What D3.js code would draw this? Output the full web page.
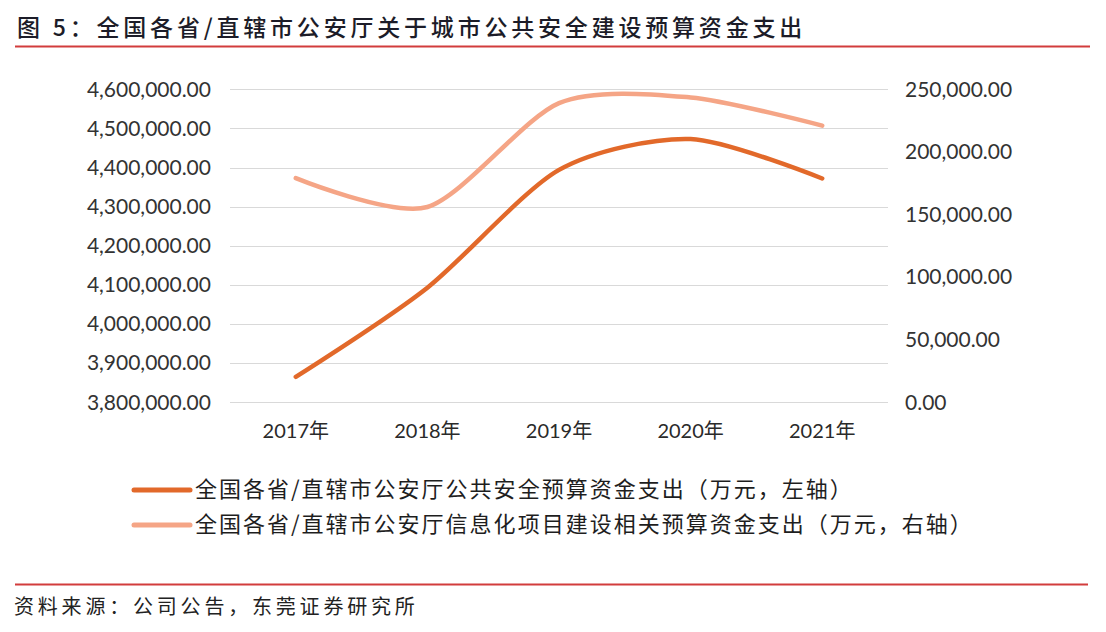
<!DOCTYPE html>
<html>
<head>
<meta charset="utf-8">
<script src="https://cdn.jsdelivr.net/npm/d3@7/dist/d3.min.js"></script>
<style>
  html, body { margin: 0; padding: 0; background: #ffffff; }
  svg { display: block; }
</style>
</head>
<body>
<svg id="chart" width="1106" height="632"></svg>
<script>
// ---- data ----
const categories = ["2017年", "2018年", "2019年", "2020年", "2021年"];
const leftValues = [3865000, 4093000, 4394000, 4473000, 4372000];
const rightValues = [179000, 156000, 239000, 243500, 221000];
const leftTicks = [3800000, 3900000, 4000000, 4100000, 4200000, 4300000, 4400000, 4500000, 4600000];
const rightTicks = [0, 50000, 100000, 150000, 200000, 250000];
const seriesNames = [
  "全国各省/直辖市公安厅公共安全预算资金支出（万元，左轴）",
  "全国各省/直辖市公安厅信息化项目建设相关预算资金支出（万元，右轴）"
];
const titleText = "图 5：全国各省/直辖市公安厅关于城市公共安全建设预算资金支出";
const sourceText = "资料来源：公司公告，东莞证券研究所";

// ---- layout ----
const svg = d3.select("#chart");
const plot = { left: 230, right: 888, top: 89.3, bottom: 402.3 };
const colors = ["#E2692A", "#F5A586"];
const cjk = "'Noto Sans CJK SC', 'Noto Sans', sans-serif";
const num = "Lato, 'Noto Sans CJK SC', sans-serif";

const x = d3.scaleBand().domain(categories).range([plot.left, plot.right]).padding(0);
const cx = c => x(c) + x.bandwidth() / 2;
const yL = d3.scaleLinear().domain([3800000, 4600000]).range([plot.bottom, plot.top]);
const yR = d3.scaleLinear().domain([0, 250000]).range([plot.bottom, plot.top]);
const fmt = d3.format(",.2f");

// title
svg.append("text").attr("x", 17).attr("y", 36)
  .attr("font-family", cjk).attr("font-size", 23).attr("font-weight", 500)
  .attr("letter-spacing", 3.8).attr("fill", "#1c1c28").text(titleText);
svg.append("line").attr("x1", 15).attr("x2", 1090).attr("y1", 46.5).attr("y2", 46.5)
  .attr("stroke", "#d23c3c").attr("stroke-width", 2);

// gridlines
svg.append("g").selectAll("line").data(leftTicks).join("line")
  .attr("x1", plot.left).attr("x2", plot.right)
  .attr("y1", d => Math.round(yL(d)) + 0.5).attr("y2", d => Math.round(yL(d)) + 0.5)
  .attr("stroke", "#d9d9d9").attr("stroke-width", 1);

// left axis
const gL = svg.append("g").attr("transform", `translate(${plot.left},0)`)
  .call(d3.axisLeft(yL).tickValues(leftTicks).tickFormat(fmt).tickSize(0).tickPadding(19));
gL.select(".domain").remove();
gL.selectAll("text").attr("font-family", num).attr("font-size", 21).attr("fill", "#333");

// right axis
const gR = svg.append("g").attr("transform", `translate(${plot.right},0)`)
  .call(d3.axisRight(yR).tickValues(rightTicks).tickFormat(fmt).tickSize(0).tickPadding(17));
gR.select(".domain").remove();
gR.selectAll("text").attr("font-family", num).attr("font-size", 21).attr("fill", "#333");

// x axis
const gX = svg.append("g").attr("transform", `translate(0,${plot.bottom})`)
  .call(d3.axisBottom(x).tickSize(0).tickPadding(22));
gX.select(".domain").remove();
gX.selectAll("text").attr("font-family", num).attr("font-size", 20).attr("fill", "#2a2a2a");

// lines
const curve = d3.curveCardinal.tension(0.2);
const lineL = d3.line().x((d, i) => cx(categories[i])).y(d => yL(d)).curve(curve);
const lineR = d3.line().x((d, i) => cx(categories[i])).y(d => yR(d)).curve(curve);
svg.append("path").datum(rightValues).attr("d", lineR)
  .attr("fill", "none").attr("stroke", colors[1]).attr("stroke-width", 4.5).attr("stroke-linecap", "round");
svg.append("path").datum(leftValues).attr("d", lineL)
  .attr("fill", "none").attr("stroke", colors[0]).attr("stroke-width", 4.5).attr("stroke-linecap", "round");

// legend
const legY = [490, 525];
const leg = svg.append("g");
seriesNames.forEach((name, i) => {
  leg.append("line").attr("x1", 134).attr("x2", 190).attr("y1", legY[i]).attr("y2", legY[i])
    .attr("stroke", colors[i]).attr("stroke-width", 5).attr("stroke-linecap", "round");
  leg.append("text").attr("x", 195).attr("y", legY[i] - 1).attr("dy", "0.36em")
    .attr("font-family", cjk).attr("font-size", 22).attr("letter-spacing", 2.0)
    .attr("fill", "#1e1e1e").text(name);
});

// footer
svg.append("line").attr("x1", 15).attr("x2", 1088).attr("y1", 584.5).attr("y2", 584.5)
  .attr("stroke", "#d23c3c").attr("stroke-width", 2);
svg.append("text").attr("x", 14).attr("y", 614)
  .attr("font-family", cjk).attr("font-size", 20).attr("letter-spacing", 3.8)
  .attr("fill", "#222").text(sourceText);
</script>
</body>
</html>
